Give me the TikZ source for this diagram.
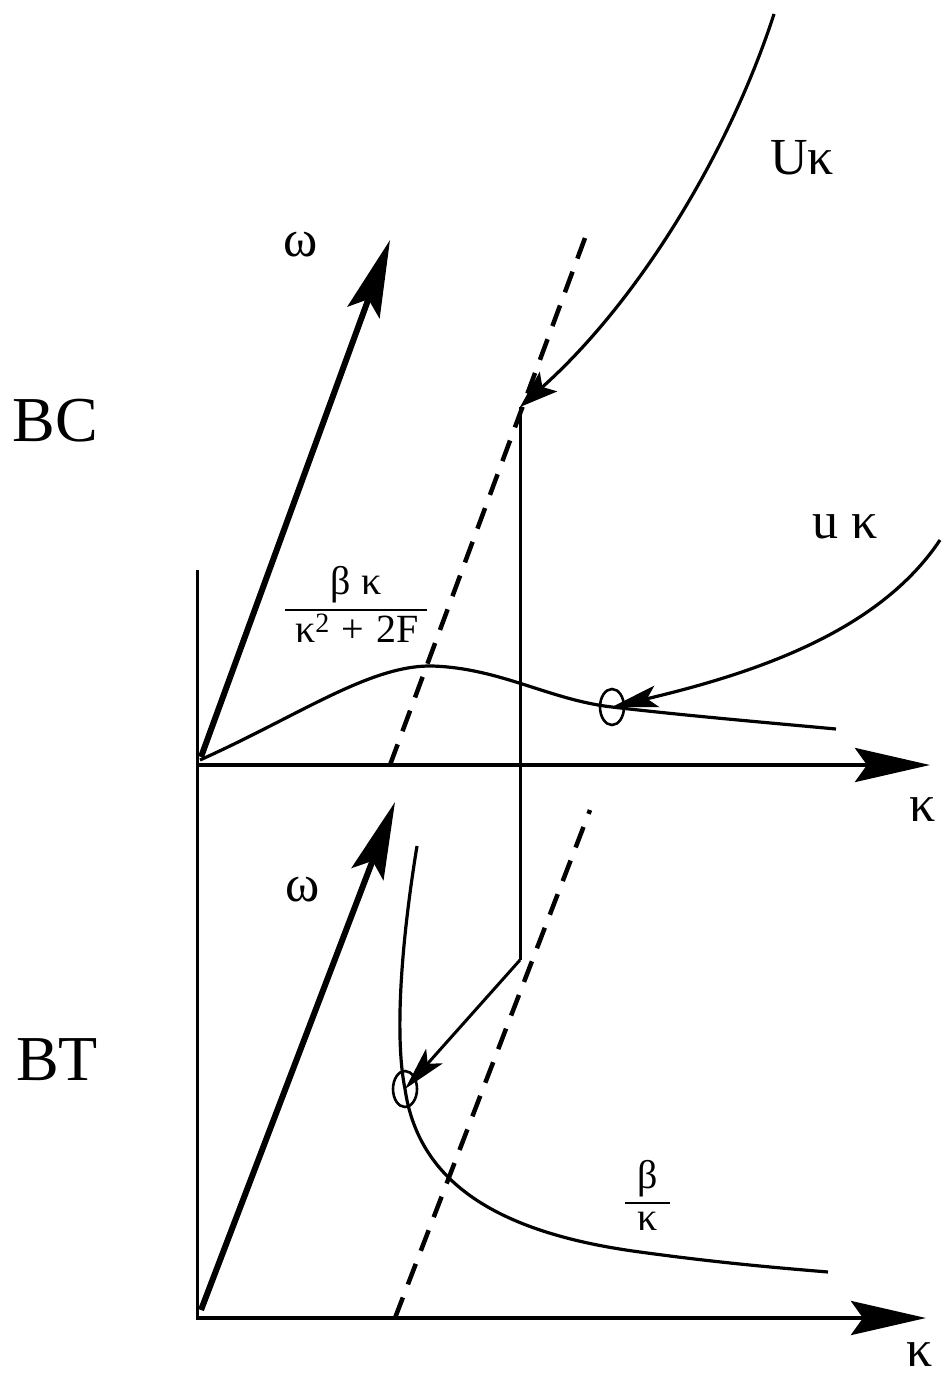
\documentclass[tikz,border=0pt]{standalone}
\usepackage{fontspec}
\setmainfont{Liberation Serif}
\usetikzlibrary{arrows.meta,shapes.geometric}
\begin{document}
\begin{tikzpicture}[x=1pt,y=-1pt,
  axis/.style={line width=4.5pt, -{Stealth[length=75pt,width=34pt,inset=12pt]}},
  omega/.style={line width=6pt, -{Stealth[length=77pt,width=34pt,inset=14pt]}},
  curve/.style={line width=3.2pt},
  plain/.style={line width=3pt},
  dashline/.style={line width=4.5pt, dash pattern=on 22pt off 14pt},
  lbl/.style={font=\fontsize{52}{56}\selectfont, inner sep=0pt},
  big/.style={font=\fontsize{64}{70}\selectfont, inner sep=0pt},
  frac/.style={font=\fontsize{40}{44}\selectfont, inner sep=0pt},
  ring/.style={ellipse, draw, line width=2.6pt, minimum width=24pt, minimum height=36pt, inner sep=0pt},
]
\useasboundingbox (0,0) rectangle (946,1378);

% key points
\coordinate (V1) at (197,570);
\coordinate (V2) at (197,1320);
\coordinate (O1) at (197,765);
\coordinate (X1) at (930,765);
\coordinate (O2) at (197,1318);
\coordinate (X2) at (926,1318);
\coordinate (W1s) at (201,757);
\coordinate (W1) at (390,240);
\coordinate (W2s) at (201,1310);
\coordinate (W2) at (395,802);
\coordinate (J1) at (520,407);
\coordinate (J2) at (520,960);
\coordinate (D1a) at (390,765);
\coordinate (D1b) at (585,238);
\coordinate (D2a) at (395,1318);
\coordinate (D2b) at (590,810);
\coordinate (Us) at (774,14);
\coordinate (us) at (940,540);
\coordinate (C1s) at (200,760);
\coordinate (C1e) at (836,729);
\coordinate (C2s) at (417,846);
\coordinate (C2e) at (828,1272);

% markers
\node[ring] (e1) at (612,707) {};
\node[ring] (e2) at (405,1089) {};

% axes
\draw[line width=3pt] (V1) -- (V2);
\draw[axis] (O1) -- (X1);
\draw[axis] (O2) -- (X2);
\draw[omega] (W1s) -- (W1);
\draw[omega] (W2s) -- (W2);

% dashed lines
\draw[dashline] (D1a) -- (D1b);
\draw[dashline] (D2a) -- (D2b);

% top curve beta kappa/(kappa^2+2F)
\draw[curve] (C1s) .. controls (300,715) and (370,665) .. (432,666)
  .. controls (500,668) and (550,700) .. (e1.center)
  .. controls (680,715) and (760,722) .. (C1e);

% bottom curve beta/kappa
\draw[curve] (C2s) .. controls (400,950) and (395,1040) .. (e2.center)
  .. controls (418,1178) and (490,1232) .. (640,1252)
  .. controls (720,1263) and (780,1268) .. (C2e);

% U kappa arrow
\draw[curve, -{Stealth[length=38pt,width=26pt,inset=8pt]}] (Us) .. controls (730,150) and (640,300) .. (J1);

% u kappa arrow
\draw[curve, -{Stealth[length=46pt,width=22pt,inset=10pt]}] (us) .. controls (880,630) and (760,672) .. (e1.center);

% jump line
\draw[plain] (J1) -- (J2);
\draw[plain, -{Stealth[length=44pt,width=22pt,inset=10pt]}] (J2) -- (e2.center);

% labels
\node[big] (bc) at (55,421) {BC};
\node[big] (bt) at (57,1060) {BT};
\node[lbl] (w1) at (301,245) {ω};
\node[lbl] (w2) at (303,890) {ω};
\node[lbl] (Uk) at (802,158) {Uκ};
\node[lbl] (uk) at (845,527) {u κ};
\node[lbl] (k1) at (923,810) {κ};
\node[lbl] (k2) at (920,1355) {κ};

% fraction beta kappa / (kappa^2 + 2F)
\node[frac, anchor=base] (n1) at (356,594) {β κ};
\node[frac, anchor=base] (d1) at (357,642) {κ\textsuperscript{2}\hspace{0.3em}+\hspace{0.3em}2F};
\coordinate (b1a) at (285,610);
\coordinate (b1b) at (427,610);
\draw[line width=1.8pt] (b1a) -- (b1b);

% fraction beta / kappa
\node[frac, anchor=base] (n2) at (648,1188) {β};
\node[frac, anchor=base] (d2) at (648,1230) {κ};
\coordinate (b2a) at (625,1203);
\coordinate (b2b) at (670,1203);
\draw[line width=1.8pt] (b2a) -- (b2b);
\end{tikzpicture}
\end{document}
